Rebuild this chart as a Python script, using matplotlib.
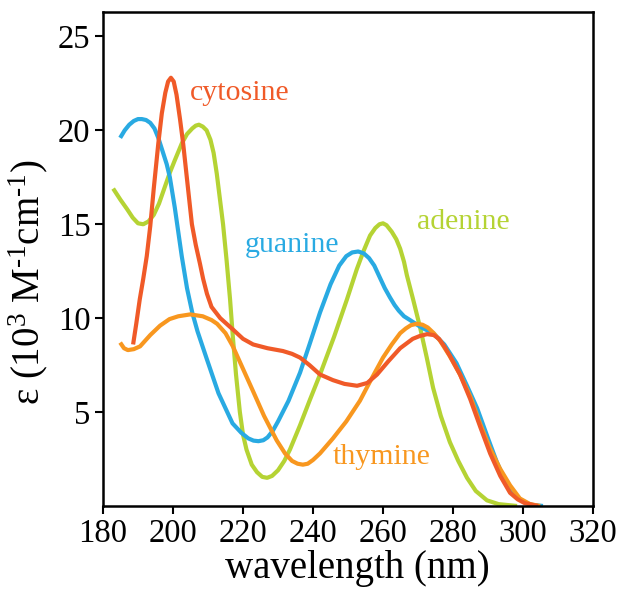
import matplotlib
matplotlib.use("Agg")
import matplotlib.pyplot as plt

### DATA ###

# wavelength (nm) / epsilon (10^3 M^-1 cm^-1)
guanine_x = [184.9, 186.2, 187.5, 188.8, 190.0, 191.1, 192.3, 193.5, 194.7, 195.8, 197.0,
             198.2, 199.1, 200.5, 202.5, 204.0, 205.5, 207.0, 209.7,
             213.0, 217.0, 219.5, 221.5, 223.0, 224.4, 225.8, 227.0, 228.5, 230.0,
             233.0, 236.3, 239.0, 242.0, 245.0, 247.5, 249.5, 251.2, 252.9, 254.5,
             256.0, 257.5, 259.0, 260.5, 262.0, 263.3, 264.5, 266.0, 267.7, 271.0,
             274.3, 277.5, 281.0, 284.0, 286.9, 290.0, 292.6, 295.5, 298.3, 300.5,
             302.5, 305.7]
guanine_y = [19.6, 20.0, 20.3, 20.5, 20.6, 20.6, 20.55, 20.4, 20.1, 19.6, 18.9,
             18.2, 17.5, 15.9, 13.3, 11.6, 10.3, 9.3, 7.8,
             6.0, 4.4, 3.9, 3.6, 3.48, 3.45, 3.5, 3.65, 4.0, 4.5,
             5.6, 7.1, 8.6, 10.3, 11.8, 12.8, 13.3, 13.5, 13.55, 13.45,
             13.2, 12.8, 12.2, 11.6, 11.1, 10.7, 10.4, 10.1, 9.9, 9.5,
             9.2, 8.6, 7.6, 6.4, 5.2, 3.6, 2.3, 1.1, 0.45, 0.2,
             0.06, 0.0]

cytosine_x = [188.6, 189.5, 190.5, 191.5, 192.5, 193.5, 194.5, 195.8, 196.8, 197.8, 198.6,
              199.4, 200.2, 201.0, 202.0, 202.9, 204.0, 205.4, 206.5, 207.7, 208.6,
              209.7, 211.0, 213.5, 217.1, 220.0, 222.9, 227.0, 231.4, 234.0, 236.3,
              239.0, 242.0, 245.7, 249.0, 252.6, 255.5, 258.3, 261.5, 264.9, 268.5,
              270.5, 272.6, 274.5, 276.0, 277.5, 279.1, 282.0, 284.9, 287.8, 290.6,
              293.5, 296.3, 298.5, 300.5, 304.3]
cytosine_y = [8.6, 9.7, 11.0, 12.1, 13.3, 14.9, 16.9, 19.3, 20.9, 22.0, 22.6,
              22.8, 22.6, 21.9, 20.6, 19.3, 17.4, 15.0, 13.9, 12.9, 12.1,
              11.3, 10.6, 10.0, 9.4, 8.9, 8.6, 8.4, 8.25, 8.1, 7.9,
              7.5, 7.0, 6.7, 6.5, 6.4, 6.55, 7.0, 7.7, 8.4, 8.9,
              9.05, 9.15, 9.1, 8.9, 8.5, 8.0, 7.0, 5.7, 4.2, 2.8,
              1.6, 0.7, 0.35, 0.15, 0.0]

adenine_x = [182.9, 185.0, 186.9, 188.5, 190.0, 191.5, 193.0, 194.5, 196.0, 197.5,
             199.0, 200.5, 202.5, 204.0, 205.5, 206.5, 207.4, 208.5, 209.6, 210.7,
             211.6, 212.5, 213.3, 214.3, 215.3, 216.3, 217.1, 218.0, 219.1, 220.0,
             221.0, 222.5, 224.0, 225.5, 226.9, 228.3, 230.0, 231.8, 233.4, 236.3,
             239.0, 242.0, 246.0, 249.7, 252.5, 254.5, 256.3, 257.8, 259.0, 260.0,
             261.0, 262.5, 263.8, 264.9, 266.0, 266.8, 268.6, 270.6, 272.5, 274.3,
             276.5, 279.1, 281.5, 284.0, 286.5, 289.7, 293.0, 298.3]
adenine_y = [16.9, 16.3, 15.8, 15.35, 15.05, 15.0, 15.15, 15.5, 16.1, 16.9,
             17.7, 18.4, 19.3, 19.8, 20.1, 20.25, 20.3, 20.2, 20.0, 19.5,
             18.8, 17.7, 16.5, 15.0, 13.1, 11.0, 9.0, 7.0, 5.0, 3.8,
             3.0, 2.2, 1.8, 1.55, 1.5, 1.6, 1.9, 2.4, 3.0, 4.3,
             5.6, 7.0, 9.0, 11.0, 12.6, 13.6, 14.4, 14.8, 15.0, 15.05,
             14.95, 14.6, 14.2, 13.7, 13.0, 12.3, 11.0, 9.5, 7.9, 6.3,
             4.8, 3.4, 2.4, 1.5, 0.8, 0.3, 0.1, 0.0]

thymine_x = [184.9, 186.0, 187.1, 188.8, 190.6, 193.5, 196.3, 199.0, 201.5, 204.9, 208.5,
             211.0, 212.6, 215.0, 217.1, 220.0, 222.9, 226.0, 229.6, 232.0, 234.0,
             235.6, 237.1, 238.5, 240.0, 242.0, 245.7, 249.5, 253.4, 256.5, 260.0,
             262.5, 264.9, 266.5, 268.0, 269.7, 271.3, 272.8, 274.5, 276.3, 279.0,
             282.0, 285.0, 287.7, 290.5, 293.4, 296.3, 299.1, 302.0, 304.9]
thymine_y = [8.7, 8.4, 8.3, 8.35, 8.5, 9.1, 9.6, 9.95, 10.1, 10.2, 10.1,
             9.9, 9.7, 9.2, 8.5, 7.3, 6.1, 4.8, 3.5, 2.8, 2.4,
             2.25, 2.2, 2.25, 2.45, 2.8, 3.6, 4.5, 5.6, 6.7, 7.9,
             8.6, 9.2, 9.45, 9.63, 9.7, 9.65, 9.5, 9.2, 8.8, 8.0,
             7.0, 5.8, 4.4, 3.1, 2.0, 1.1, 0.4, 0.1, 0.0]

bases = ["guanine", "cytosine", "thymine", "adenine"]
xticks = [180, 200, 220, 240, 260, 280, 300, 320]
yticks = [5, 10, 15, 20, 25]

### STYLE ###

colors = {
    "guanine": "#29aae2",
    "cytosine": "#f05a28",
    "adenine": "#b5d334",
    "thymine": "#f8971f",
}
label_pos = {
    "cytosine": (204.8, 22.0),
    "guanine": (220.5, 13.9),
    "adenine": (269.6, 15.1),
    "thymine": (245.6, 2.6),
}

plt.rcParams["font.family"] = ["Liberation Serif", "DejaVu Serif"]
plt.rcParams["mathtext.fontset"] = "custom"
plt.rcParams["mathtext.rm"] = "Liberation Serif"
plt.rcParams["mathtext.it"] = "Liberation Serif:italic"

series = {
    "guanine": (guanine_x, guanine_y),
    "cytosine": (cytosine_x, cytosine_y),
    "thymine": (thymine_x, thymine_y),
    "adenine": (adenine_x, adenine_y),
}

fig = plt.figure(figsize=(6.22, 5.92), dpi=100)
ax = fig.add_axes([0.1656, 0.1453, 0.7878, 0.8344])

# draw order: adenine under, then guanine, thymine, cytosine on top
for name in ["adenine", "guanine", "thymine", "cytosine"]:
    xs, ys = series[name]
    ax.plot(xs, ys, color=colors[name], linewidth=3.0,
            solid_joinstyle="round", solid_capstyle="butt")

for name in bases:
    lx, ly = label_pos[name]
    ax.text(lx, ly, name, color=colors[name], fontsize=21.5, va="center", ha="left")

ax.set_xlim(180, 320)
ax.set_ylim(0, 26.3)
ax.set_xticks(xticks)
ax.set_yticks(yticks)
ax.tick_params(axis="both", direction="out", length=6, width=1.5,
               labelsize=23.5, pad=3)
for side in ["left", "bottom", "top", "right"]:
    ax.spines[side].set_linewidth(1.8)

ax.set_xlabel("wavelength (nm)", fontsize=28)
ax.xaxis.set_label_coords(0.52, -0.089)
ax.set_ylabel(r"ε (10$^{3}$ M$^{\text{-}1}$cm$^{\text{-}1}$)", fontsize=28)
ax.yaxis.set_label_coords(-0.108, 0.453)

plt.savefig("out.png", dpi=100)
